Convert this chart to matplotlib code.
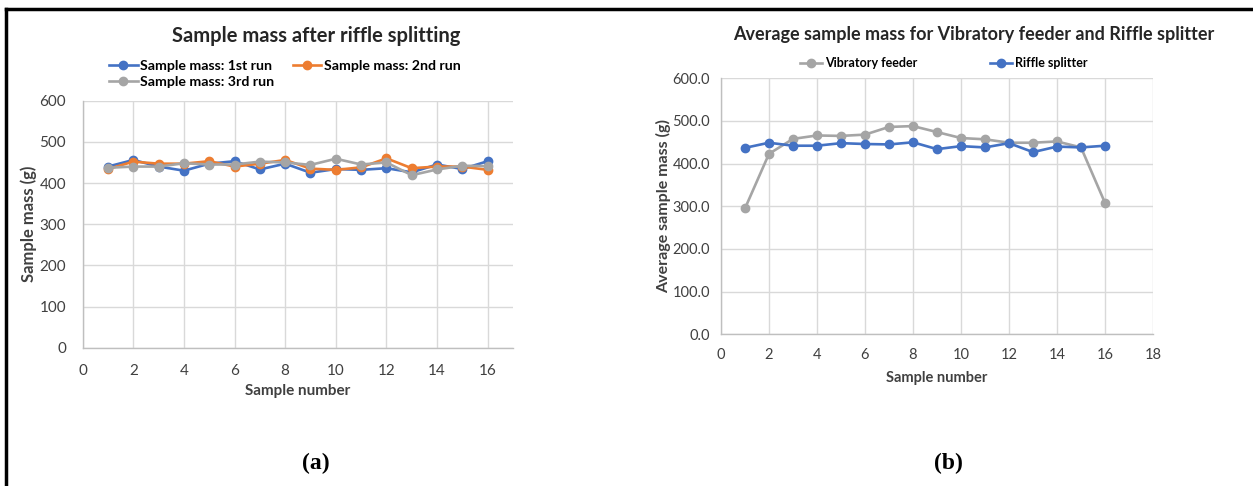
import matplotlib.pyplot as plt
from matplotlib.lines import Line2D

plt.rcParams['font.family'] = ['Lato', 'DejaVu Sans']

# panel (a) - riffle splitting, three runs
samples = list(range(1, 17))
run1 = [440, 456, 440, 430, 447, 453, 433, 447, 425, 434, 432, 436, 426, 445, 434, 453]
run2 = [434, 452, 447, 447, 453, 440, 447, 456, 435, 432, 438, 460, 436, 440, 440, 432]
run3 = [437, 440, 440, 448, 445, 445, 452, 450, 444, 459, 445, 450, 419, 433, 442, 441]

# panel (b) - average sample mass
vibratory = [295, 423, 458, 466, 465, 468, 486, 488, 474, 460, 457, 449, 449, 452, 438, 308]
riffle = [437, 449, 442, 442, 448, 446, 445, 450, 434, 441, 438, 448, 427, 440, 438, 442]

BLUE = '#4472C4'
ORANGE = '#ED7D31'
GRAY = '#A5A5A5'
GRID = '#D9D9D9'
TXT = '#404040'

fig = plt.figure(figsize=(12.53, 4.86), dpi=100)


def style_axes(ax, xpad, ypad, size):
    ax.grid(True, color=GRID, linewidth=1.0)
    ax.set_axisbelow(True)
    for s in ['top', 'right']:
        ax.spines[s].set_visible(False)
    for s in ['left', 'bottom']:
        ax.spines[s].set_color('#BFBFBF')
        ax.spines[s].set_linewidth(1.0)
    ax.tick_params(length=0, labelsize=size, colors=TXT)
    ax.tick_params(axis='x', pad=xpad)
    ax.tick_params(axis='y', pad=ypad)


line_kw = dict(marker='o', markersize=6, linewidth=1.9)

# ---- (a)
ax1 = fig.add_axes([0.066, 0.2846, 0.3434, 0.5082])
l1, = ax1.plot(samples, run1, color=BLUE, label='Sample mass: 1st run', **line_kw)
l2, = ax1.plot(samples, run2, color=ORANGE, label='Sample mass: 2nd run', **line_kw)
l3, = ax1.plot(samples, run3, color=GRAY, label='Sample mass: 3rd run', **line_kw)
ax1.set_xlim(0, 17)
ax1.set_ylim(0, 600)
ax1.set_xticks(range(0, 17, 2))
ax1.set_yticks(range(0, 601, 100))
style_axes(ax1, 12, 12, 11)
ax1.set_xlabel('Sample number', fontsize=11, fontweight='bold', color=TXT, labelpad=4)
ax1.set_ylabel('Sample mass (g)', fontsize=12, fontweight='bold', color=TXT, labelpad=2)
fig.text(0.252, 0.926, 'Sample mass after riffle splitting', ha='center', va='center',
         fontsize=14.5, fontweight='bold', color='#262626')
# order so row 1 holds 1st and 2nd run, row 2 holds 3rd run
fig.legend(handles=[l1, l3, l2], loc='upper left', bbox_to_anchor=(0.077, 0.903),
           ncol=2, frameon=False, handlelength=2.0, handletextpad=0.2,
           columnspacing=1.3, labelspacing=0.3,
           prop={'weight': 'bold', 'size': 10.2})

# ---- (b)
ax2 = fig.add_axes([0.5754, 0.3121, 0.3448, 0.5268])
ax2.plot(samples, vibratory, color=GRAY, label='Vibratory feeder', **line_kw)
ax2.plot(samples, riffle, color=BLUE, label='Riffle splitter', **line_kw)
ax2.set_xlim(0, 18)
ax2.set_ylim(0, 600)
ax2.set_xticks(range(0, 19, 2))
ax2.set_yticks(range(0, 601, 100))
ax2.set_yticklabels([f'{v:.1f}' for v in range(0, 601, 100)])
style_axes(ax2, 10, 8, 10.5)
ax2.set_xlabel('Sample number', fontsize=10.5, fontweight='bold', color=TXT, labelpad=6)
ax2.set_ylabel('Average sample mass (g)', fontsize=11.5, fontweight='bold', color=TXT, labelpad=1)
fig.text(0.777, 0.928, 'Average sample mass for Vibratory feeder and Riffle splitter',
         ha='center', va='center', fontsize=13, fontweight='bold', color='#262626')
fig.legend(handles=ax2.get_lines(), loc='center', bbox_to_anchor=(0.753, 0.87),
           ncol=2, frameon=False, handlelength=1.8, handletextpad=0.2, columnspacing=5.8,
           prop={'weight': 'bold', 'size': 9})

# captions
fig.text(0.252, 0.047, '(a)', ha='center', va='center', fontsize=17, fontweight='bold',
         family='Liberation Serif')
fig.text(0.757, 0.047, '(b)', ha='center', va='center', fontsize=17, fontweight='bold',
         family='Liberation Serif')

# outer frame (top and left edges)
fig.add_artist(Line2D([0.0045, 1.0], [0.982, 0.982], color='black', linewidth=2.5,
                      transform=fig.transFigure))
fig.add_artist(Line2D([0.0045, 0.0045], [0.0, 0.982], color='black', linewidth=2.5,
                      transform=fig.transFigure))

fig.savefig('out.png', dpi=100)
